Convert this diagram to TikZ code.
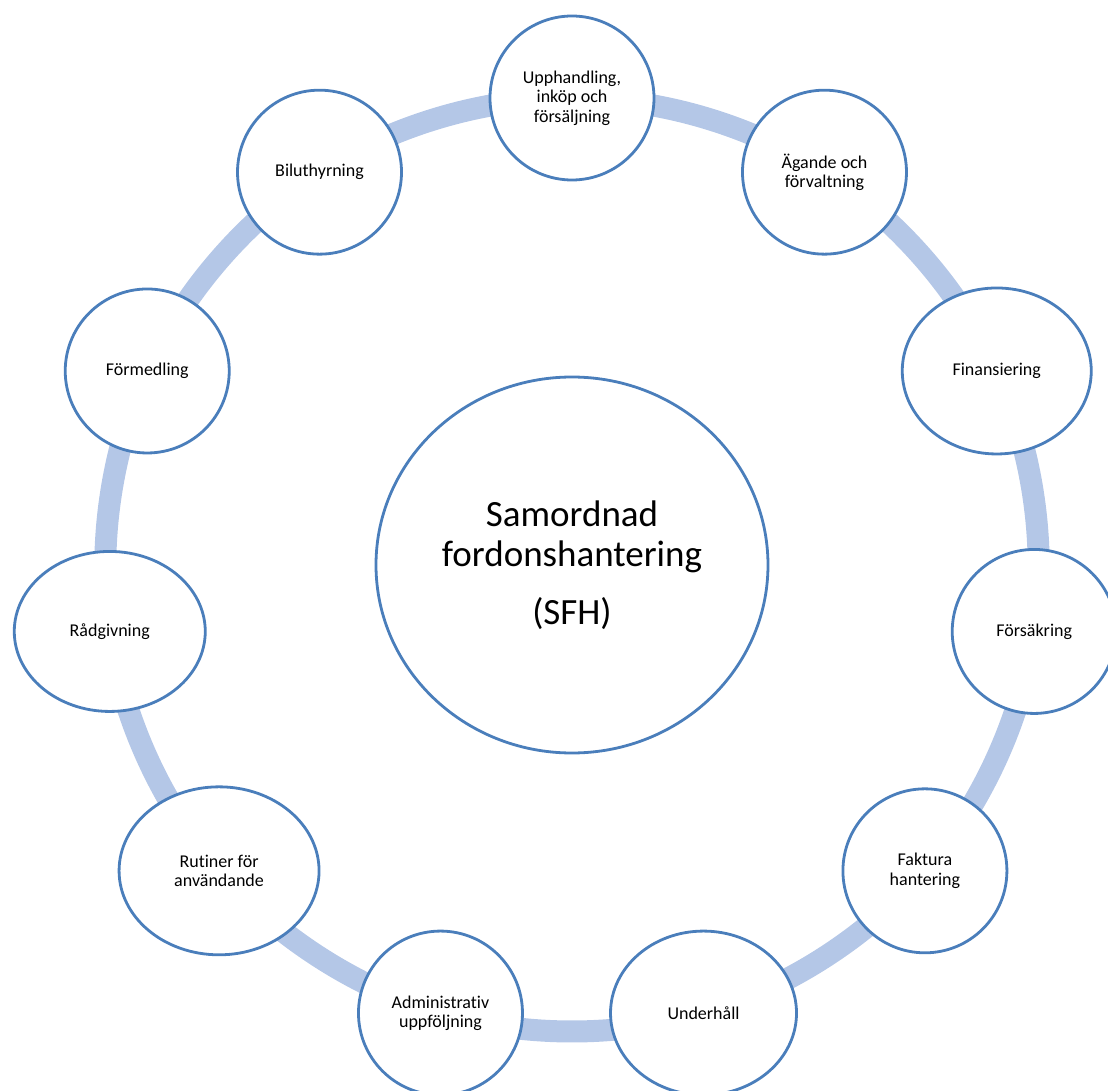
\documentclass[tikz,border=0pt]{standalone}
\usepackage{fontspec}
\setmainfont{Carlito}[Ligatures=NoCommon]
\usetikzlibrary{shapes.geometric,backgrounds}
\definecolor{rimblue}{RGB}{74,126,187}
\definecolor{ringblue}{RGB}{180,199,231}

\begin{document}
\begin{tikzpicture}[x=1pt,y=1pt,
    area/.style={ellipse, draw=rimblue, line width=2.8pt, fill=white, inner sep=0pt,
        minimum width=164pt, minimum height=164pt, align=center,
        font=\fontsize{18}{19.5}\selectfont},
    hub/.style={area, minimum width=392pt, minimum height=376pt,
        font=\fontsize{37}{40}\selectfont},
    ring/.style={ringblue, line width=22pt}]
    % Frame
    \useasboundingbox (-572,-525) rectangle (536,565);

    % Centre
    \node[hub] (sfh) at (0,0) {Samordnad\\fordonshantering\\[18pt](SFH)};

    % Areas round the ring
    \node[area] (upph) at (90:467) {Upphandling,\\inköp och\\försäljning};
    \node[area] (agande) at (57.27:467) {Ägande och\\förvaltning};
    \node[area, minimum width=189pt, minimum height=166pt] (finans) at (24.55:467) {Finansiering};
    \node[area] (forsakring) at (-8.18:467) {Försäkring};
    \node[area] (faktura) at (-40.91:467) {Faktura\\hantering};
    \node[area, minimum width=186pt] (underhall) at (-73.64:467) {Underhåll};
    \node[area] (admin) at (-106.36:467) {Administrativ\\uppföljning};
    \node[area, minimum width=200pt, minimum height=168pt] (rutiner) at (-139.09:467) {Rutiner för\\användande};
    \node[area, minimum width=191pt, minimum height=160pt] (radgivning) at (-171.82:467) {Rådgivning};
    \node[area] (formedling) at (155.45:467) {Förmedling};
    \node[area] (biluthyrning) at (122.73:467) {Biluthyrning};

    % Ring behind the areas
    \begin{scope}[on background layer]
        \foreach \a/\b in {upph/agande, agande/finans, finans/forsakring,
            forsakring/faktura, faktura/underhall, underhall/admin, admin/rutiner,
            rutiner/radgivning, radgivning/formedling, formedling/biluthyrning,
            biluthyrning/upph}
            \draw[ring] (\a.center) to[bend left=16.36, looseness=0.85] (\b.center);
    \end{scope}
\end{tikzpicture}
\end{document}
